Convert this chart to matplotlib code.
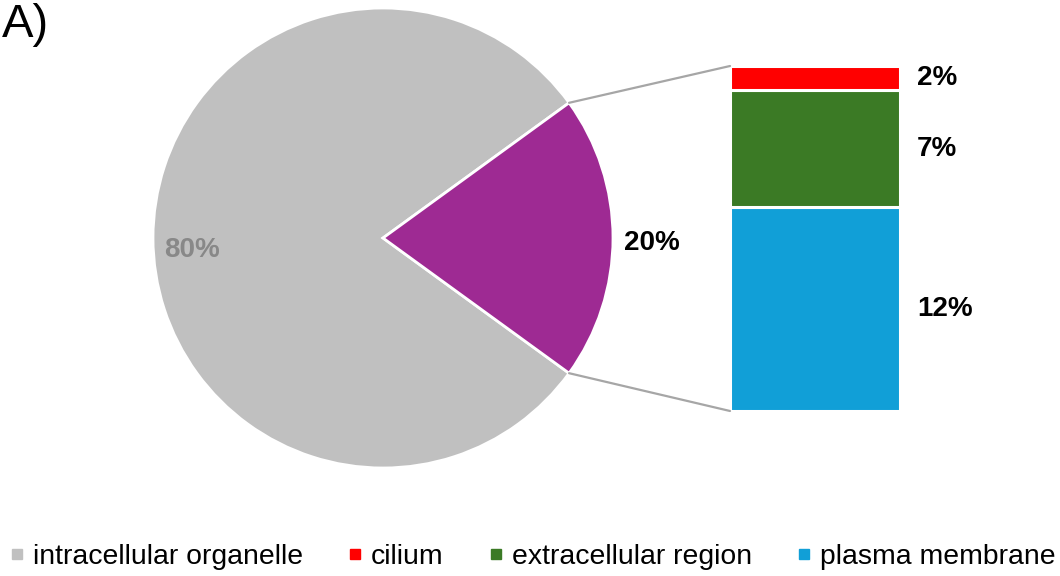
import numpy as np
import matplotlib
matplotlib.use("Agg")
import matplotlib.pyplot as plt
from matplotlib.patches import ConnectionPatch
from matplotlib.lines import Line2D

plt.rcParams['font.family'] = ['Liberation Sans', 'DejaVu Sans']

# ---- data ----
pie_labels = ["intracellular organelle", "other"]
pie_values = [80, 20]
pie_texts = ["80%", "20%"]
bar_categories = ["plasma membrane", "extracellular region", "cilium"]
bar_values = [11.8, 6.8, 1.4]
bar_texts = ["12%", "7%", "2%"]
legend_labels = ["intracellular organelle", "cilium", "extracellular region", "plasma membrane"]

pie_colors = ["#C0C0C0", "#9E2A93"]
bar_colors = {"plasma membrane": "#119FD7", "extracellular region": "#3B7A25", "cilium": "#FF0000"}
legend_colors = ["#C0C0C0", "#FF0000", "#3B7A25", "#119FD7"]

W, H = 1060, 576
fig = plt.figure(figsize=(W / 100, H / 100), dpi=100)

# pie axes in pixel units (y up)
ax = fig.add_axes([0, 0, 1, 1])
cx, cy, r = 383, H - 238, 230
wedges, _ = ax.pie(pie_values, colors=pie_colors, startangle=36, center=(cx, cy),
                   radius=r, wedgeprops=dict(edgecolor="white", linewidth=2))
ax.set_xlim(0, W)
ax.set_ylim(0, H)
ax.set_aspect("equal")
ax.axis("off")

dists = [0.83, 1.17]
offsets = [-12, -5]
label_colors = ["#888888", "black"]
for w, t, d, off, c in zip(wedges, pie_texts, dists, offsets, label_colors):
    ang = np.deg2rad((w.theta1 + w.theta2) / 2)
    ax.text(cx + d * r * np.cos(ang), cy + d * r * np.sin(ang) + off, t,
            ha="center", va="center", fontsize=20, fontweight="bold", color=c)

# stacked bar axes
bx0, bx1, by0, by1 = 730, 900, 66, 411
bax = fig.add_axes([bx0 / W, 1 - by1 / H, (bx1 - bx0) / W, (by1 - by0) / H])
total = sum(bar_values)
bottom = 0
for cat, v, t in zip(bar_categories, bar_values, bar_texts):
    bax.bar(0, v, bottom=bottom, width=1, color=bar_colors[cat], edgecolor="white", linewidth=2.2)
    bax.text(0.6, bottom + v / 2, t, ha="left", va="center", fontsize=20, fontweight="bold")
    bottom += v
bax.set_xlim(-0.5, 0.5)
bax.set_ylim(0, total)
bax.axis("off")

# connector lines
purple = wedges[1]
for th, yb in [(purple.theta2, total), (purple.theta1, 0)]:
    a = np.deg2rad(th)
    p = (cx + r * np.cos(a), cy + r * np.sin(a))
    con = ConnectionPatch(xyA=p, coordsA=ax.transData, xyB=(-0.5, yb), coordsB=bax.transData,
                          color="#A6A6A6", linewidth=1.6)
    fig.add_artist(con)

# legend
handles = [Line2D([], [], marker="s", linestyle="none", markersize=7.5,
                  markerfacecolor=c, markeredgecolor=c) for c in legend_colors]
fig.legend(handles, legend_labels, loc="center", bbox_to_anchor=(533 / W, 1 - 557 / H),
           ncol=4, frameon=False, fontsize=20.4, handlelength=0.45, handletextpad=0.35,
           columnspacing=1.6, borderpad=0, borderaxespad=0)

fig.text(2 / W, 1 - 37 / H, "A)", fontsize=34, va="baseline", ha="left")

fig.savefig("out.png", dpi=100)
